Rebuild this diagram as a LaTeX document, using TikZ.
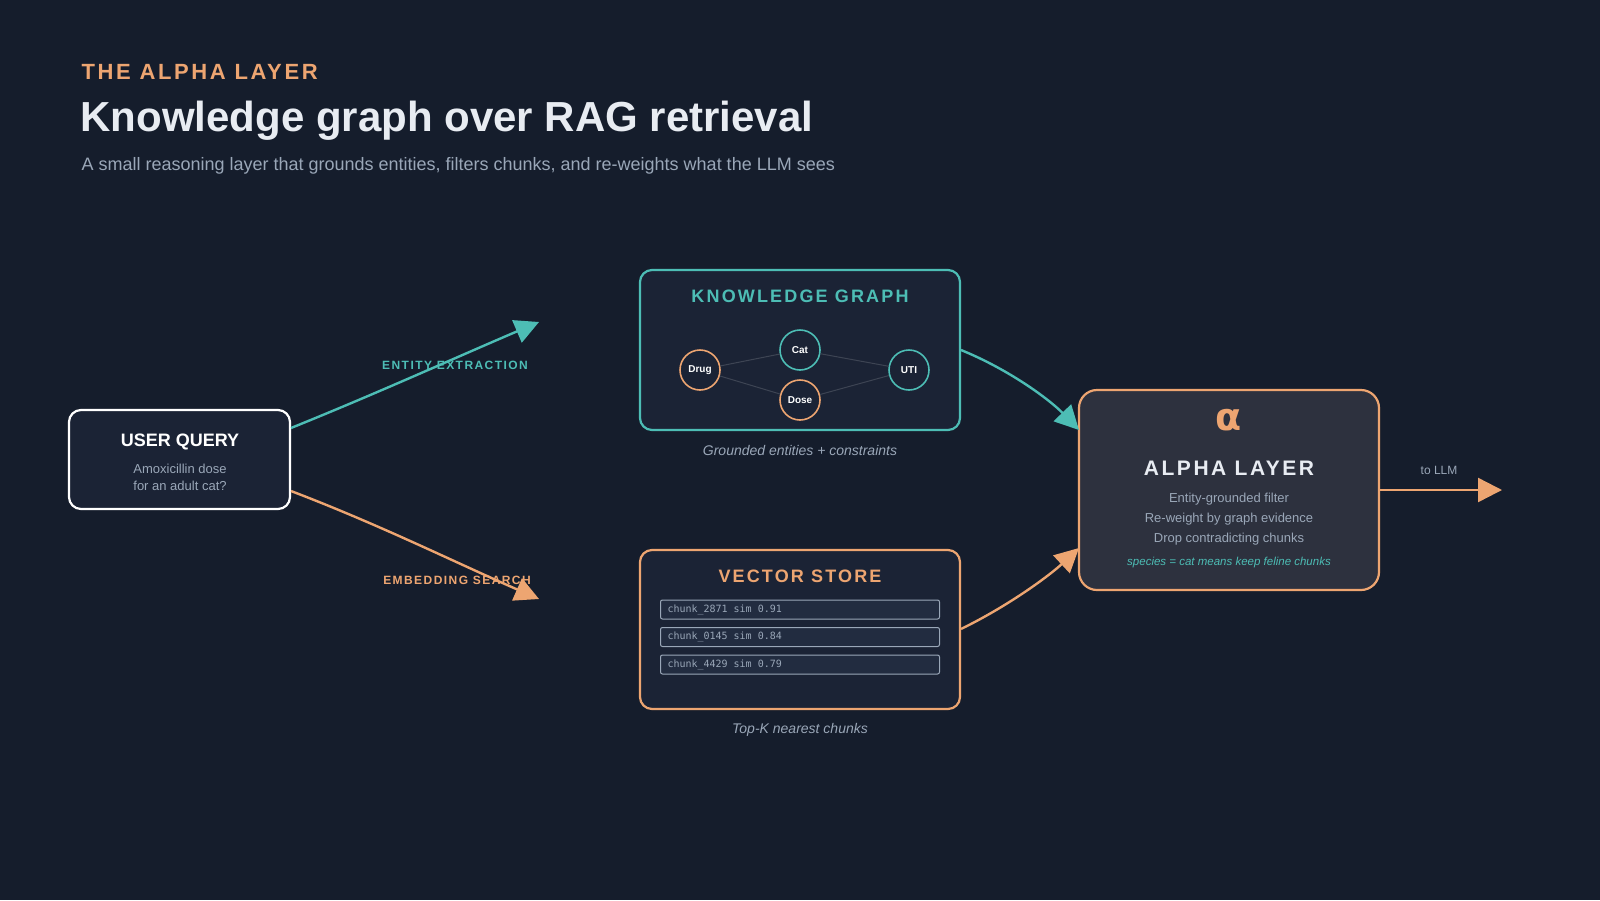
\documentclass[tikz,border=0pt]{standalone}
\usepackage{fontspec}
\setmainfont{Liberation Sans}
\setmonofont{DejaVu Sans Mono}
\newfontfamily\symfont{DejaVu Sans}
\usetikzlibrary{arrows.meta,positioning}
\definecolor{bgcol}{HTML}{151D2C}
\definecolor{boxfill}{HTML}{1B2335}
\definecolor{chunkfill}{HTML}{222C40}
\definecolor{alphafill}{HTML}{2D313E}
\definecolor{teal}{HTML}{4DBDB5}
\definecolor{peach}{HTML}{EDA571}
\definecolor{mute}{HTML}{9AA7B8}
\definecolor{bright}{HTML}{E8ECF2}
\newcommand{\spaced}[1]{{\addfontfeature{LetterSpace=12}#1}}
\newcommand{\gap}{\hspace{6pt}}
\tikzset{
  panel/.style={draw, line width=2.2pt, rounded corners=12pt, fill=boxfill},
  entity/.style={circle, draw, line width=1.6pt, minimum size=40pt, inner sep=0pt, fill=boxfill, text=white, font=\fontsize{10}{12}\selectfont\bfseries},
  chunk/.style={draw=mute, line width=1pt, rounded corners=2pt, fill=chunkfill, minimum width=279pt, minimum height=19pt, inner sep=0pt, text=mute, font=\ttfamily\fontsize{10}{12}\selectfont},
  flow/.style={line width=2.4pt, -{Triangle[length=24pt,width=24pt]}},
  caption/.style={text=mute, font=\fontsize{14}{16}\selectfont\itshape},
  tag/.style={font=\fontsize{12}{14}\selectfont\bfseries}
}
\begin{document}
\begin{tikzpicture}[x=1pt,y=-1pt]
\fill[bgcol] (0,0) rectangle (1600,900);
\useasboundingbox (0,0) rectangle (1600,900);

\node[anchor=west, text=peach, font=\fontsize{22}{24}\selectfont\bfseries] (kicker) at (78,72) {\spaced{THE ALPHA LAYER}};
\node[anchor=west, text=bright, font=\fontsize{42}{46}\selectfont\bfseries] (title) at (77,121) {Knowledge graph over RAG retrieval};
\node[anchor=west, text=mute, font=\fontsize{18}{20}\selectfont] (subtitle) at (78,166) {A small reasoning layer that grounds entities, filters chunks, and re-weights what the LLM sees};

% user query
\draw[panel, draw=white] (69,410) rectangle (290,509);
\node[text=white, font=\fontsize{18}{20}\selectfont\bfseries] (qtitle) at (180,442) {USER QUERY};
\node[text=mute, align=center, font=\fontsize{13}{17}\selectfont] (qtext) at (180,477) {Amoxicillin dose\\for an adult cat?};
\coordinate (qtop) at (291,428);
\coordinate (qbot) at (291,491);

% knowledge graph
\draw[panel, draw=teal] (640,270) rectangle (960,430);
\node[text=teal, font=\fontsize{18}{20}\selectfont\bfseries] (kgtitle) at (800,296) {\spaced{KNOWLEDGE GRAPH}};
\node[entity, draw=peach] (drug) at (700,370) {Drug};
\node[entity, draw=teal] (cat) at (800,350) {Cat};
\node[entity, draw=peach] (dose) at (800,400) {Dose};
\node[entity, draw=teal] (uti) at (909,370) {UTI};
\draw[white!15!boxfill, line width=1pt] (drug) -- (cat) (drug) -- (dose) (cat) -- (uti) (dose) -- (uti);
\node[caption] (kgcap) at (800,450) {Grounded entities + constraints};
\coordinate (kgout) at (961,350);
\coordinate (kgin) at (539,322);

% vector store
\draw[panel, draw=peach] (640,550) rectangle (960,709);
\node[text=peach, font=\fontsize{18}{20}\selectfont\bfseries] (vstitle) at (800,576) {\spaced{VECTOR STORE}};
\foreach \name/\sim [count=\i] in {2871/0.91,0145/0.84,4429/0.79}
  \node[chunk, text width=265pt, align=left] (c\i) at (800,582+27.5*\i) {chunk\_\name\gap sim\gap\sim};
\node[caption] (vscap) at (800,730) {Top-K nearest chunks};
\coordinate (vsout) at (961,629);
\coordinate (vsin) at (539,599);

% alpha layer
\draw[panel, draw=peach, fill=alphafill, rounded corners=18pt] (1079,390) rectangle (1379,590);
\node[text=peach, font=\symfont\fontsize{38}{38}\selectfont\bfseries] (alpha) at (1229,420) {α};
\node[text=bright, font=\fontsize{21}{24}\selectfont\bfseries] (atitle) at (1229,468) {\spaced{ALPHA LAYER}};
\node[text=mute, align=center, font=\fontsize{13}{20}\selectfont] (alines) at (1229,519) {Entity-grounded filter\\Re-weight by graph evidence\\Drop contradicting chunks};
\node[text=teal, font=\fontsize{11.5}{14}\selectfont\itshape] (anote) at (1229,563) {species = cat means keep feline chunks};
\coordinate (ain1) at (1079,430);
\coordinate (ain2) at (1079,548);
\coordinate (aout) at (1379,490);
\coordinate (llm) at (1502,490);

% connectors
\draw[flow, teal] (qtop) .. controls (380,392) and (450,360) .. (kgin);
\node[tag, text=teal] (ent) at (455,365) {\spaced{ENTITY EXTRACTION}};
\draw[flow, peach] (qbot) .. controls (380,525) and (450,560) .. (vsin);
\node[tag, text=peach] (emb) at (457,580) {\spaced{EMBEDDING SEARCH}};
\draw[flow, teal] (kgout) .. controls (1010,370) and (1050,400) .. (ain1);
\draw[flow, peach] (vsout) .. controls (1010,605) and (1050,575) .. (ain2);
\draw[flow, peach] (aout) -- (llm);
\node[text=mute, font=\fontsize{12}{14}\selectfont] (tollm) at (1439,470) {to LLM};
\end{tikzpicture}
\end{document}
